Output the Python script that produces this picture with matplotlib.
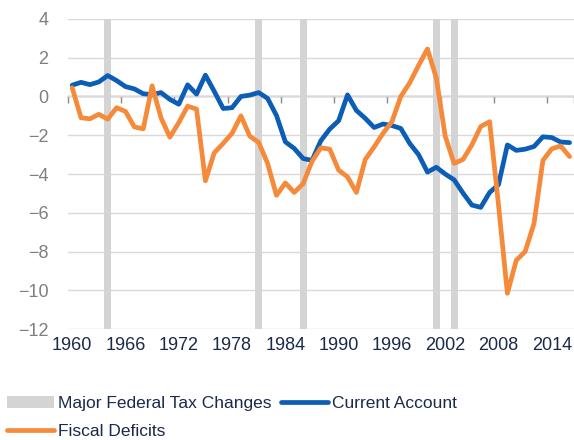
import numpy as np
import matplotlib.pyplot as plt

plt.rcParams['font.family'] = ['Liberation Sans', 'DejaVu Sans']

years = list(range(1960, 2017))

current_account = [0.58, 0.73, 0.61, 0.75, 1.08, 0.82, 0.51, 0.39, 0.14, 0.1,
                   0.2, -0.15, -0.4, 0.6, 0.12, 1.1, 0.26, -0.62, -0.58, 0.0,
                   0.07, 0.2, -0.1, -0.98, -2.34, -2.68, -3.2, -3.3, -2.28, -1.68,
                   -1.25, 0.08, -0.72, -1.13, -1.6, -1.42, -1.5, -1.65, -2.42, -3.0,
                   -3.9, -3.65, -4.0, -4.3, -4.98, -5.6, -5.72, -4.95, -4.55, -2.5,
                   -2.78, -2.72, -2.58, -2.08, -2.12, -2.35, -2.38]

fiscal_deficits = [0.45, -1.1, -1.15, -0.92, -1.17, -0.58, -0.77, -1.57, -1.67, 0.55,
                   -1.1, -2.1, -1.35, -0.5, -0.65, -4.35, -2.9, -2.42, -1.9, -1.0,
                   -2.05, -2.37, -3.45, -5.1, -4.46, -4.95, -4.5, -3.35, -2.65, -2.72,
                   -3.8, -4.15, -4.95, -3.25, -2.6, -1.9, -1.3, 0.0, 0.7, 1.6,
                   2.45, 0.95, -2.05, -3.45, -3.25, -2.5, -1.55, -1.3, -5.6, -10.15,
                   -8.45, -8.0, -6.55, -3.3, -2.7, -2.55, -3.1]

tax_change_years = [1964, 1981, 1986, 2001, 2003]

x_labels = list(range(1960, 2017, 6))
y_ticks = list(range(-12, 5, 2))

navy = '#1b2a4a'
blue = '#0b5db5'
orange = '#f68a3b'
bar_gray = '#d4d4d4'

fig = plt.figure(figsize=(5.74, 4.40), dpi=100)
ax = fig.add_axes([0.118, 0.252, 0.882, 0.705])

ymin, ymax = -12, 4
ax.set_xlim(years[0] - 0.5, years[-1] + 0.5)
ax.set_ylim(ymin, ymax)

# Gridlines
ax.set_yticks(y_ticks)
ax.yaxis.grid(True, color='#d9d9d9', linewidth=1.0, zorder=0)
ax.set_axisbelow(True)

# Tax change bars
bars = ax.bar(tax_change_years, ymax - ymin, bottom=ymin, width=0.8,
              color=bar_gray, zorder=1)

# Lines
ca_line, = ax.plot(years, current_account, color=blue, linewidth=3.4, zorder=3,
                   solid_joinstyle='round', solid_capstyle='round')
fd_line, = ax.plot(years, fiscal_deficits, color=orange, linewidth=3.4, zorder=4,
                   solid_joinstyle='round', solid_capstyle='round')

# Category axis at zero with tick marks between categories
zero_frac = (0 - ymin) / (ymax - ymin)
sec = ax.secondary_xaxis(zero_frac)
sec.set_xticks([y - 0.5 for y in x_labels] + [years[-1] + 0.5])
sec.set_xticklabels([])
sec.tick_params(axis='x', which='both', length=5, width=1, color='#8c8c8c',
                labelbottom=False, labeltop=False, direction='in')
for s in sec.spines.values():
    s.set_color('#8c8c8c')
    s.set_linewidth(1)

for s in ax.spines.values():
    s.set_visible(False)

ax.set_xticks(x_labels)
ax.set_xticklabels([str(y) for y in x_labels])
ax.tick_params(axis='x', length=0, pad=6, labelsize=13, labelcolor=navy)
ax.tick_params(axis='y', length=0, pad=14, labelsize=13, labelcolor='#7f7f7f')

fig.legend([bars, fd_line, ca_line],
           ['Major Federal Tax Changes', 'Fiscal Deficits', 'Current Account'],
           loc='upper left', bbox_to_anchor=(0.012, 0.1), ncol=2,
           frameon=False, fontsize=12.5, labelcolor=navy,
           handlelength=2.7, handletextpad=0.25, columnspacing=0.55,
           borderpad=0.0, borderaxespad=0.0, labelspacing=0.75)

fig.savefig('out.png', dpi=100)
